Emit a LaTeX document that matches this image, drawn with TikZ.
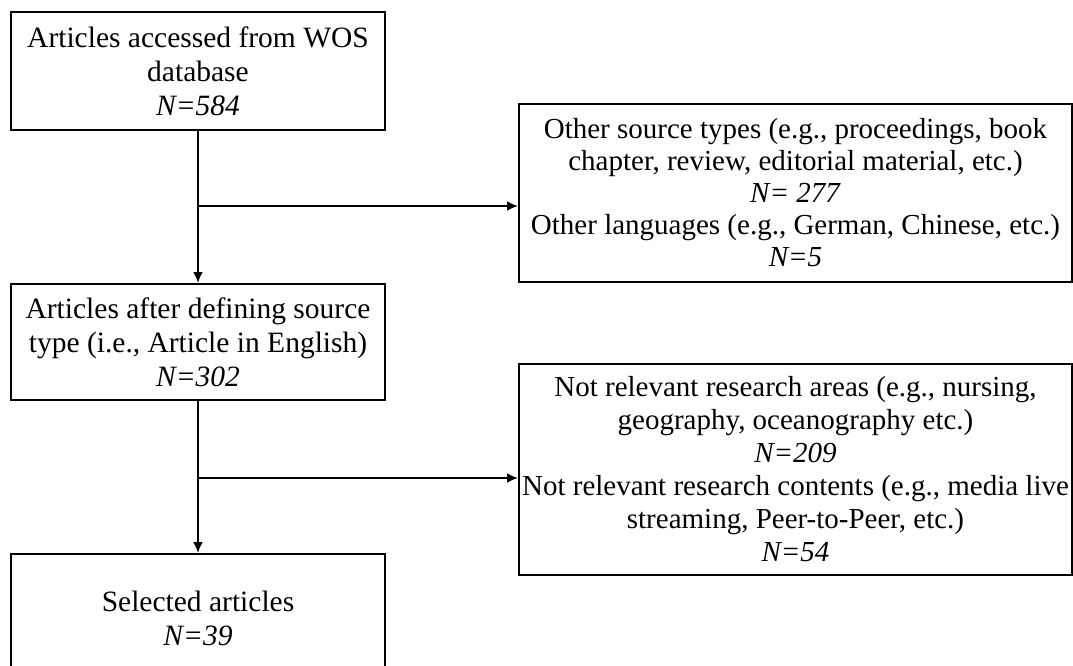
\documentclass[tikz,border=0pt]{standalone}
\usepackage{fontspec}
\setmainfont{Liberation Serif}
\usepackage{tikz}
\usetikzlibrary{arrows.meta,positioning,calc}

\tikzset{
    stepbox/.style={draw, line width=2pt, inner sep=0pt, align=center,
        font=\fontsize{29.5}{34}\selectfont},
    exclbox/.style={stepbox, font=\fontsize{29}{33}\selectfont,
        minimum width=553pt},
    flowarrow/.style={line width=2pt, -{Latex[length=11pt,width=10pt]}}
}

\begin{document}
\begin{tikzpicture}[x=1pt,y=-1pt]
    \clip (0,0) rectangle (1073,666);

    % Main column (left)
    \node[stepbox, minimum width=374pt, minimum height=118pt] (wos) at (198,71)
        {Articles accessed from WOS\\database\\\textit{N=584}};
    \node[stepbox, minimum width=374pt, minimum height=116pt] (eng) at (198,342)
        {Articles after defining source\\type (i.e., Article in English)\\\textit{N=302}};
    \node[stepbox, minimum width=374pt, minimum height=128pt] (sel) at (198,618)
        {Selected articles\\\textit{N=39}};

    % Excluded records (right)
    \node[exclbox, font=\fontsize{29}{32}\selectfont, minimum height=178pt] (excl1) at (795.5,193)
        {Other source types (e.g., proceedings, book\\chapter, review, editorial material, etc.)\\\textit{N= 277}\\Other languages (e.g., German, Chinese, etc.)\\\textit{N=5}};
    \node[exclbox, minimum height=211pt] (excl2) at (795.5,469.5)
        {Not relevant research areas (e.g., nursing,\\geography, oceanography etc.)\\\textit{N=209}\\Not relevant research contents (e.g., media live\\streaming, Peer-to-Peer, etc.)\\\textit{N=54}};

    % Arrows
    \draw[flowarrow] (wos) -- (eng);
    \draw[flowarrow] (eng) -- (sel);
    \coordinate (split1) at (198,206);
    \coordinate (split2) at (198,478);
    \draw[flowarrow] (split1) -- (split1 -| excl1.west);
    \draw[flowarrow] (split2) -- (split2 -| excl2.west);
\end{tikzpicture}
\end{document}
